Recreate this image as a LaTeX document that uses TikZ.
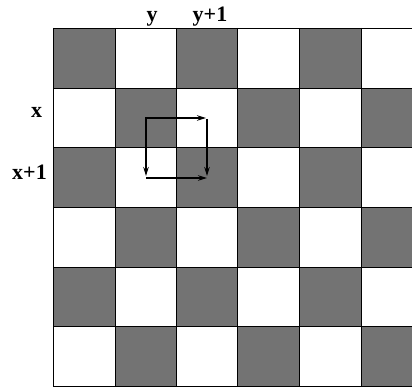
\documentclass[tikz,border=0pt]{standalone}
\usepackage{fontspec}
\setmainfont{Liberation Serif}
\usetikzlibrary{arrows.meta}
\definecolor{cellgray}{HTML}{737373}
\begin{document}
\begin{tikzpicture}[x=1pt,y=-1pt,
  lbl/.style={font=\bfseries\fontsize{22}{22}\selectfont, inner sep=0pt, anchor=base},
  grid line/.style={draw=black, line width=0.9pt},
  mv/.style={line width=2pt, -{Stealth[length=9pt,width=5.5pt]}}]
\useasboundingbox (0,0) rectangle (412,387);
\def\colx{{53,115,176,237,299,361,423}}
\def\rowy{{28,88,147.5,207,267,326,386}}
\foreach \r in {0,...,5}{
  \foreach \c in {0,...,5}{
    \pgfmathsetmacro{\xa}{\colx[\c]}
    \pgfmathsetmacro{\xb}{\colx[\c+1]}
    \pgfmathsetmacro{\ya}{\rowy[\r]}
    \pgfmathsetmacro{\yb}{\rowy[\r+1]}
    \pgfmathtruncatemacro{\cellpar}{mod(\r+\c,2)}
    \ifnum\cellpar=0
      \fill[cellgray] (\xa,\ya) rectangle (\xb,\yb);
    \fi
  }
}
\foreach \y in {28,88,147.5,207,267,326,386}
  \draw[grid line] (53,\y) -- (412,\y);
\foreach \x in {53,115,176,237,299,361}
  \draw[grid line] (\x,28) -- (\x,386);
\node[lbl] (ly) at (152,22) {y};
\node[lbl] (ly1) at (210,21.5) {y+1};
\node[lbl] (lx) at (36.5,118) {x};
\node[lbl] (lx1) at (29.5,180) {x+1};
\coordinate (a) at (146,118);
\coordinate (b) at (206,118);
\coordinate (b2) at (207,118);
\coordinate (c) at (146,176);
\coordinate (c2) at (146,178);
\coordinate (d) at (207,176);
\coordinate (d2) at (207,178);
\draw[mv] ([xshift=-1pt]a) -- (b);
\draw[mv] ([yshift=-1pt]b2) -- (d);
\draw[mv] ([yshift=-1pt]a) -- (c);
\draw[mv] (c2) -- (d2);
\end{tikzpicture}
\end{document}
